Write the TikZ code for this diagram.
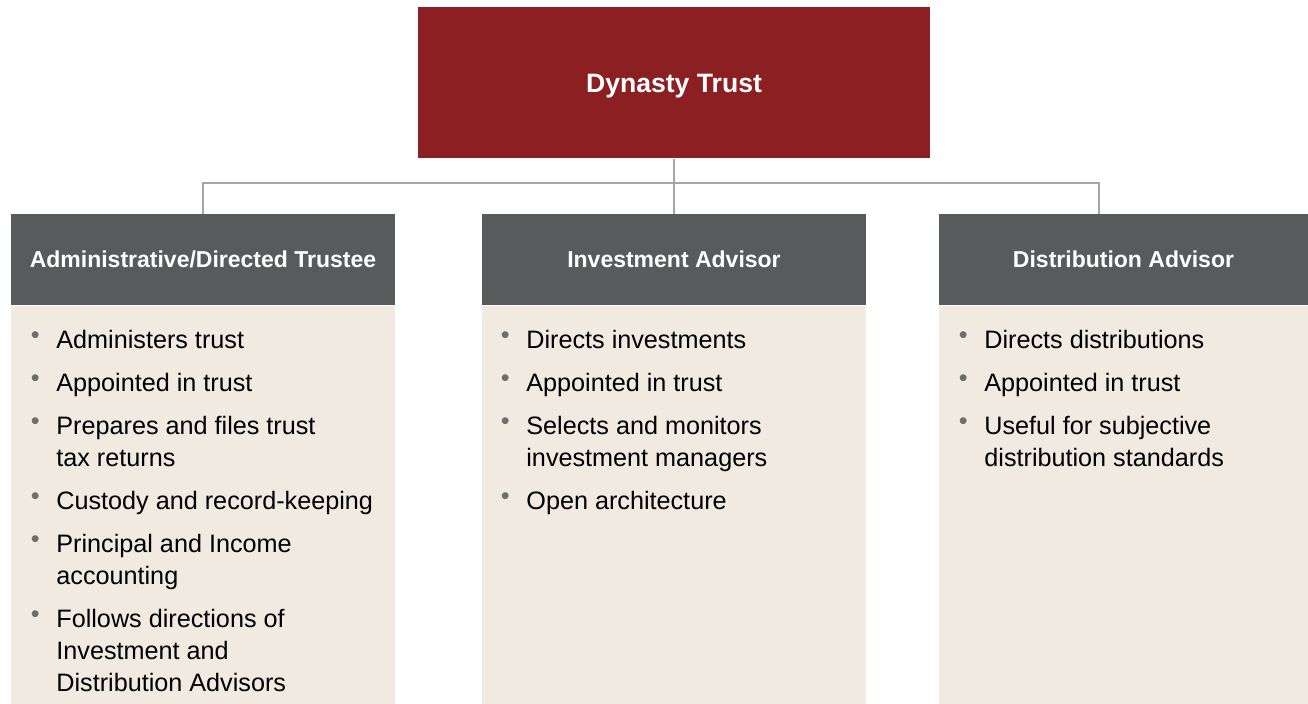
\documentclass[tikz,border=0pt]{standalone}
\usepackage{fontspec}
\setmainfont{Liberation Sans}
\usepackage{xcolor}
\usetikzlibrary{positioning, calc}
\definecolor{dynred}{HTML}{8B1F22}
\definecolor{dynslate}{HTML}{585B5C}
\definecolor{dynsand}{HTML}{F0EAE0}
\definecolor{dynrule}{HTML}{A6A6A6}
\definecolor{dyndot}{HTML}{6D6E70}
% bullet set in front of each list entry (the strut fixes the first line's height)
\newcommand{\dyn}{\leavevmode\rule{0pt}{10pt}\llap{\textcolor{dyndot}{\raisebox{2.2pt}{\textbullet}}\hspace{8.3pt}}}
\newcommand{\gap}{\\[5.5pt]}
\tikzset{
  trustbox/.style={fill=dynred, text=white, minimum width=256pt, minimum height=75.5pt,
    font=\fontsize{13.3}{15}\selectfont\bfseries},
  rolebox/.style={fill=dynslate, text=white, minimum width=192pt, minimum height=45.5pt,
    font=\fontsize{11.5}{14}\selectfont\bfseries},
  dutybox/.style={fill=dynsand, minimum width=192pt, minimum height=199.5pt},
  duties/.style={anchor=north west, inner sep=0pt, align=left, text=black,
    font=\fontsize{12.6}{16}\selectfont},
  link/.style={draw=dynrule, line width=1pt}
}
\begin{document}
\begin{tikzpicture}[x=1pt, y=-1pt]
  \useasboundingbox (0,0) rectangle (654,352);
  % top of the structure
  \node[trustbox, text depth=0pt] (trust) at (337,41.5) {Dynasty Trust};
  % the three roles
  \node[rolebox] (hdA) at (101.5,129.75) {Administrative/Directed Trustee};
  \node[rolebox] (hdB) at (337,129.75) {Investment Advisor};
  \node[rolebox, minimum width=184.5pt] (hdC) at (561.75,129.75) {Distribution Advisor};
  \node[dutybox, below=0pt of hdA] (bdA) {};
  \node[dutybox, below=0pt of hdB] (bdB) {};
  \node[dutybox, minimum width=184.5pt, below=0pt of hdC] (bdC) {};
  % connectors
  \coordinate (bus) at (0,91.5);
  \coordinate (tapC) at ([xshift=-12.25pt]hdC.north);
  \draw[link] (trust.south) -- (hdB.north);
  \draw[link] (hdA.north) |- (tapC |- bus) -- (tapC);
  % duties of each role
  \node[duties] (lsA) at (28,164) {\dyn Administers trust\gap
    \dyn Appointed in trust\gap
    \dyn Prepares and files trust\\ tax returns\gap
    \dyn Custody and record-keeping\gap
    \dyn Principal and Income\\ accounting\gap
    \dyn Follows directions of\\ Investment and\\ Distribution Advisors};
  \node[duties] (lsB) at (263,164) {\dyn Directs investments\gap
    \dyn Appointed in trust\gap
    \dyn Selects and monitors\\ investment managers\gap
    \dyn Open architecture};
  \node[duties] (lsC) at (492,164) {\dyn Directs distributions\gap
    \dyn Appointed in trust\gap
    \dyn Useful for subjective\\ distribution standards};
\end{tikzpicture}
\end{document}
